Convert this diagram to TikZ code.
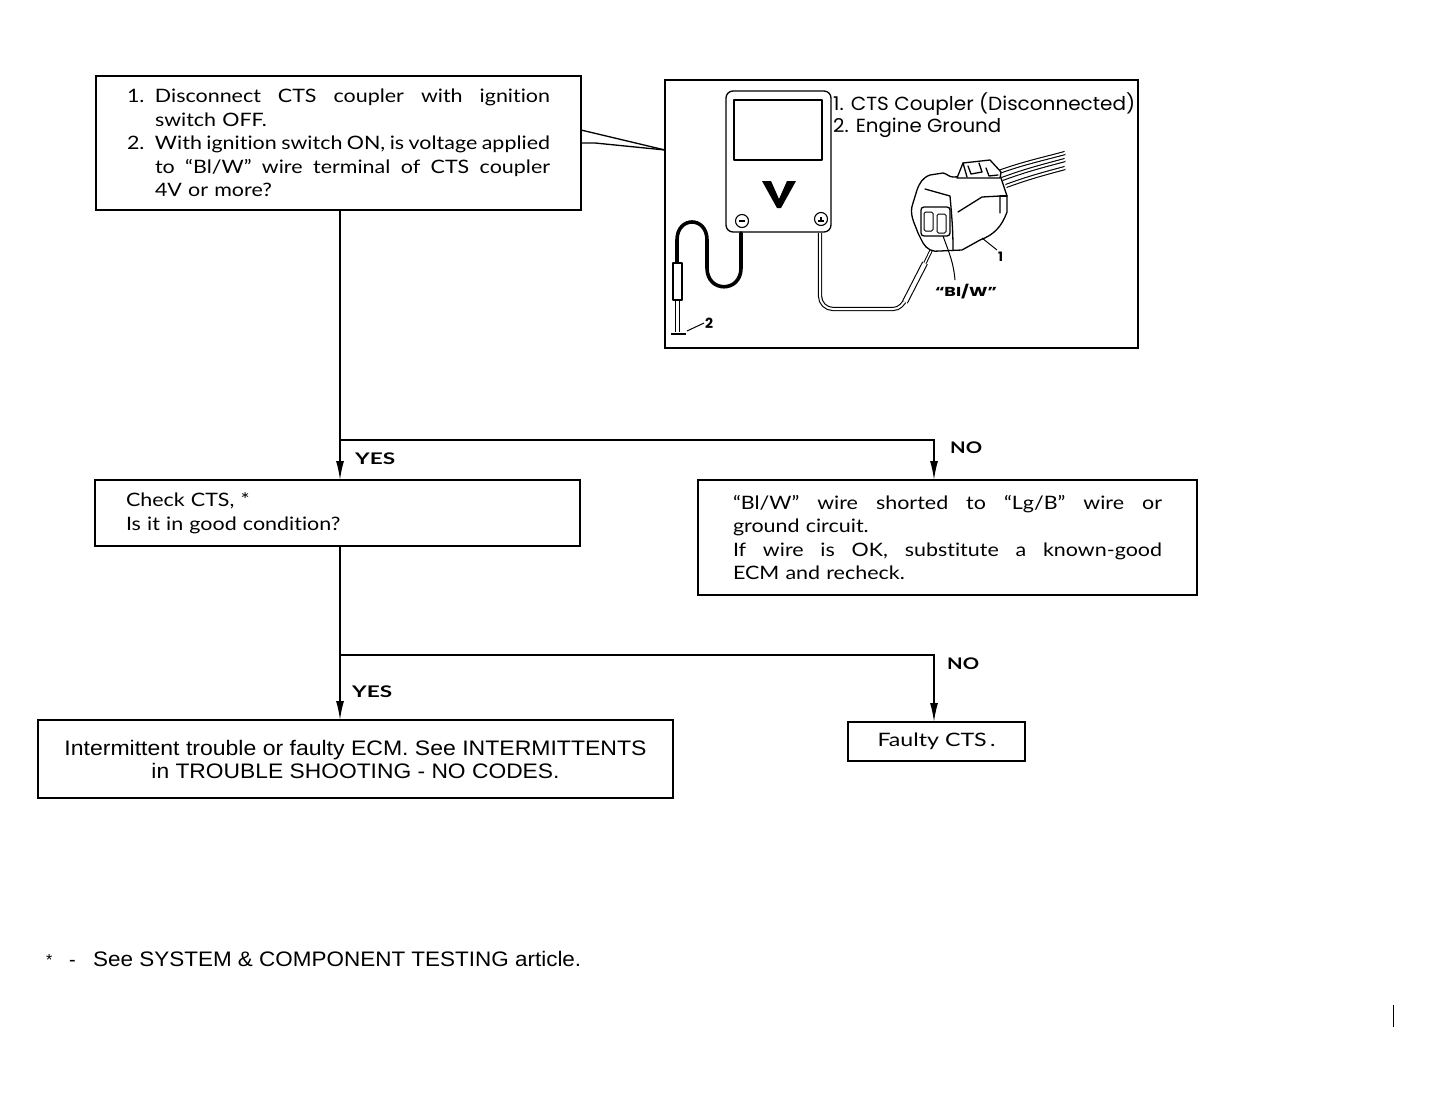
\documentclass[tikz,border=0pt]{standalone}
\usepackage{fontspec}
\usepackage{graphicx}
\setmainfont{Lato}[FakeStretch=1.16,Ligatures=NoCommon]
\newfontfamily\arialf{Liberation Sans}
\newfontfamily\geof{Poppins}
\usetikzlibrary{arrows.meta,calc}
\newcommand{\fitw}[2]{\resizebox{#1}{\height}{#2}}
\newcommand{\jl}[2]{{\spaceskip=.3em plus 1em minus .15em\xspaceskip=0pt\makebox[#1][s]{#2}}}
\begin{document}
\begin{tikzpicture}[x=1pt,y=-1pt,
  box/.style={draw,line width=1.5pt,inner sep=0pt,outer sep=0pt,font=\fontsize{18.5}{23.5}\selectfont},
  flow/.style={line width=1.5pt},
  arr/.style={line width=1.5pt,-{Latex[length=19pt,width=8pt]}},
  lab/.style={font=\fontsize{16}{18}\selectfont\bfseries,inner sep=0pt,anchor=base west},
  ill/.style={line width=1.3pt,line join=round,line cap=round},
  wire/.style={double,double distance=2pt,line width=1.1pt},
  lead/.style={line width=3.6pt,line cap=round},
  geo/.style={font=\geof\fontsize{19}{23}\selectfont,inner sep=0pt,anchor=base west},
]
\useasboundingbox (0,0) rectangle (1432,1103);
\fill[white] (0,0) rectangle (1432,1103);

% ---------- boxes ----------
\node[box,minimum width=485pt,minimum height=134pt,text width=423pt,align=left] (q1) at (338.5,143) {%
\makebox[28pt][l]{1.}\jl{395pt}{Disconnect CTS coupler with ignition}\\
\hspace*{28pt}switch OFF.\\
\makebox[28pt][l]{2.}\jl{395pt}{With ignition switch ON, is voltage applied}\\
\hspace*{28pt}\jl{395pt}{to “Bl/W” wire terminal of CTS coupler}\\
\hspace*{28pt}4V or more?};

\node[box,minimum width=485pt,minimum height=66pt,text width=423pt,align=left] (q2) at (337.5,513) {%
Check CTS, *\\
Is it in good condition?};

\node[box,minimum width=499pt,minimum height=115pt,text width=429pt,align=left] (q3) at (947.5,537.5) {%
\jl{429pt}{“Bl/W” wire shorted to “Lg/B” wire or}\\
ground circuit.\\
\jl{429pt}{If wire is OK, substitute a known-good}\\
ECM and recheck.};

\node[box,minimum width=635pt,minimum height=78pt,align=center,font=\arialf\fontsize{21}{23}\selectfont] (q4) at (355.5,759) {%
\fitw{582pt}{Intermittent trouble or faulty ECM. See INTERMITTENTS}\\
\fitw{408pt}{in TROUBLE SHOOTING - NO CODES.}};

\node[box,minimum width=177pt,minimum height=39pt] (q5) at (936.5,741.5) {\fitw{118pt}{Faulty CTS\,.}};

% ---------- illustration box ----------
\node[draw,line width=1.5pt,minimum width=473pt,minimum height=268pt,inner sep=0pt] (ill) at (901.5,214) {};
\coordinate (cw) at (665,150);
\draw[line width=1.3pt] ([yshift=13pt]q1.east) -- (cw);
\draw[line width=1.3pt] (q1.east) -- ++(14,0) -- (cw);

% ---------- connectors ----------
\draw[arr] ([xshift=1.5pt]q1.south) -- ([xshift=2.5pt]q2.north);
\coordinate (j1) at (340,440);
\draw[arr] (j1) -| ([xshift=-13.5pt]q3.north);
\draw[arr] ([xshift=2.5pt]q2.south) -- ([xshift=-15.5pt]q4.north);
\coordinate (j2) at (340,655);
\draw[arr] (j2) -| ([xshift=-2.5pt]q5.north);

\node[lab] (yes1) at (355,464) {\fitw{40pt}{YES}};
\node[lab] (no1) at (950,453) {\fitw{32pt}{NO}};
\node[lab] (yes2) at (352,697) {\fitw{40pt}{YES}};
\node[lab] (no2) at (947,669) {\fitw{32pt}{NO}};

% ---------- footnote ----------
\node[inner sep=0pt,anchor=base west,font=\arialf\fontsize{16}{18}\selectfont] (fs) at (46,965) {*};
\node[inner sep=0pt,anchor=base west,font=\arialf\fontsize{20}{22}\selectfont] (fd) at (69,966) {-};
\node[inner sep=0pt,anchor=base west,font=\arialf\fontsize{21}{22}\selectfont] (fn) at (93,966) {\fitw{488pt}{See SYSTEM \& COMPONENT TESTING article.}};
\draw[line width=1pt] (1393,1005) -- (1393,1027);

% ---------- illustration: meter ----------
\draw[ill,rounded corners=7pt] (726,91) rectangle (831,232);
\draw[ill] (734,100) rectangle (822,160);
\fill (762,181) -- (771,181) -- (779,199) -- (787,181) -- (796,181) -- (781,208) -- (777,208) -- cycle;
\draw[line width=1.1pt] (742,221) circle (6.5);
\draw[line width=1.1pt] (739,221) -- (745,221);
\draw[line width=1.1pt] (821,219) circle (6.5);
\draw[line width=1.1pt] (818,221) -- (824,221) (821,217) -- (821,221);

% black lead
\draw[lead] (741,233) -- (741,268) .. controls (741,293) and (707,293) .. (707,268) -- (707,240)
   .. controls (707,216) and (677,216) .. (677,240) -- (677,263);
\draw[ill,fill=white] (673,263) rectangle (682,300);
\draw[line width=1pt] (675.5,300) -- (675.5,332) (679,300) -- (679,332);
\draw[line width=2.6pt] (671,334) -- (686,334);
\draw[line width=1pt] (687,331) -- (704,323);
\node[inner sep=0pt,anchor=base west,font=\geof\bfseries\fontsize{14}{16}\selectfont] (g2) at (705,328) {2};

% red lead
\draw[wire] (820,233) -- (820,296) to[out=270,in=180] (833,309) -- (893,309) to[out=0,in=235] (907,298);
\draw[double,double distance=4pt,line width=1.1pt] (905,302) -- (925,263);
\draw[double,double distance=1.4pt,line width=1pt] (925,263) -- (941,230);

% ---------- illustration: coupler ----------
% wires
\draw[wire] (996,173) to[out=20,in=195] (1065,153);
\draw[wire] (1002,179) to[out=20,in=195] (1065,160);
\draw[wire] (1006,186) to[out=20,in=195] (1065,168);
% body
\draw[ill,fill=white] (917,190) to[out=70,in=200] (930,175) -- (943,173) to[out=-10,in=180] (953,177)
   -- (1000,175) -- (1007,196) -- (1007,212) to[out=250,in=20] (980,240) -- (962,250)
   -- (940,251) to[out=190,in=-60] (923,243) -- (918,233) to[out=110,in=250] (913,203) -- cycle;
\draw[ill] (925,189) -- (950,196) to[out=-85,in=90] (953,250);
\draw[ill] (958,212) -- (982,197) -- (1000,196) -- (1000,213);
\draw[ill] (1000,196) -- (1007,196);
% latch
\draw[ill,fill=white] (957,178) -- (963,163) -- (990,160) -- (1001,172) -- (1000,178) -- cycle;
\draw[ill] (963,163) -- (967,177);
\draw[ill] (968,166) -- (971,174) -- (982,172) -- (979,163);
\draw[ill] (986,168) -- (989,176) -- (998,175);
% cavity
\draw[ill,rounded corners=3pt] (921,207) rectangle (950,236);
\draw[line width=1pt,rounded corners=1.5pt] (924,212) rectangle (933,231);
\draw[line width=1pt,rounded corners=1.5pt] (937,214) rectangle (946,233);
% leaders and labels
\draw[line width=1pt] (943,236) to[out=-70,in=95] (955,280);
\node[inner sep=0pt,anchor=base,font=\geof\bfseries\fontsize{13}{15}\selectfont] (gbw) at (966,296) {\fitw{62pt}{“BI/W”}};
\draw[line width=1pt] (982,238) -- (997,250);
\node[inner sep=0pt,anchor=base west,font=\geof\bfseries\fontsize{13}{15}\selectfont] (g1) at (998,261) {1};

% legend
\node[geo] (l1) at (833,110) {\fitw{302pt}{1. CTS Coupler (Disconnected)}};
\node[geo] (l2) at (833,132) {\fitw{168pt}{2. Engine Ground}};
\end{tikzpicture}
\end{document}
